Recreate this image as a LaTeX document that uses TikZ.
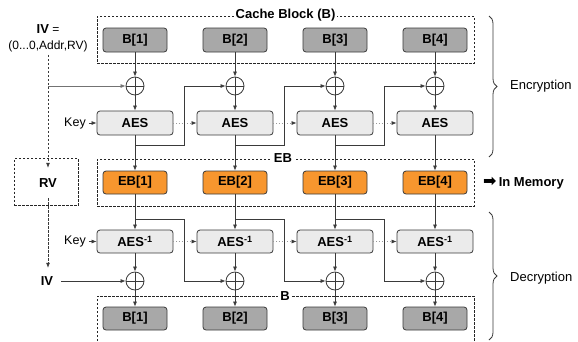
\documentclass[tikz,border=0pt]{standalone}
\usepackage{fontspec}
\setmainfont{Liberation Sans}
\newfontfamily\symfont{DejaVu Sans}
\usetikzlibrary{arrows.meta,calc,decorations.pathreplacing}
\definecolor{bgray}{HTML}{A8A8A8}
\definecolor{lgray}{HTML}{EBEBEB}
\definecolor{eborange}{HTML}{F7962E}
\definecolor{ln}{HTML}{3A3A3A}
\begin{document}
\begin{tikzpicture}[x=1pt,y=-1pt,
  font=\fontsize{13}{15}\selectfont,
  box/.style={draw=ln, line width=0.8pt, rounded corners=3pt, inner sep=0pt,
    font=\fontsize{13}{15}\selectfont\bfseries},
  bbox/.style={box, fill=bgray, minimum width=64pt, minimum height=24pt},
  ebbox/.style={box, fill=eborange, minimum width=64pt, minimum height=23pt},
  aesbox/.style={box, fill=lgray, minimum width=76pt, minimum height=24pt},
  xor/.style={circle, draw=ln, line width=0.8pt, minimum size=18pt, inner sep=0pt,
    path picture={\draw[ln, line width=0.8pt] (path picture bounding box.north) -- (path picture bounding box.south)
      (path picture bounding box.west) -- (path picture bounding box.east);}},
  frame/.style={draw=black!85, line width=0.8pt, dash pattern=on 2.5pt off 1.5pt},
  title/.style={fill=white, inner sep=2pt, font=\fontsize{13}{15}\selectfont\bfseries},
  arr/.style={draw=ln, line width=0.7pt, -{Latex[length=5pt,width=4pt]}},
  garr/.style={arr, draw=black!55},
  dasharr/.style={arr, dash pattern=on 2.5pt off 1.5pt},
  keyarr/.style={draw=black!40, line width=0.7pt, dotted, -{Latex[length=5pt,width=4pt,color=ln]}},
  lbl/.style={font=\fontsize{12.5}{15}\selectfont, inner sep=3pt},
  brace/.style={draw=ln, line width=0.8pt, decorate, decoration={brace, amplitude=8pt}}
]
\useasboundingbox (0,0) rectangle (578,341);

% frames
\node[frame, minimum width=377pt, minimum height=47pt, inner sep=0pt] (cbf) at (285.5,39.5) {};
\node[title] (cbt) at (cbf.north) {Cache Block (B)};
\node[frame, minimum width=377pt, minimum height=47pt, inner sep=0pt] (ebf) at (285.5,182.5) {};
\node[title] (ebt) at (283,158) {EB};
\node[frame, minimum width=64pt, minimum height=47pt, inner sep=0pt] (rvf) at (46,182) {};
\draw[frame] (97,345) |- (474,296) -- (474,345);
\node[title] (bt) at (285,296) {B};

% IV and RV
\node[align=center, inner sep=3pt, font=\fontsize{12}{16}\selectfont] (ivt) at (48,38)
  {\textbf{\fontsize{13}{16}\selectfont IV} =\\(0...0,Addr,RV)};
\node[font=\fontsize{13}{15}\selectfont\bfseries, minimum height=30pt, inner sep=0pt] (rvt) at (48,183) {RV};
\node[font=\fontsize{13}{15}\selectfont\bfseries, minimum height=26pt, inner xsep=8pt, inner ysep=0pt] (ivb) at (47,281) {IV};
\draw[dasharr] (ivt.south -| rvt.north) -- (rvt.north);
\draw[dasharr] (rvt.south) -- (rvt.south |- ivb.north);

% columns
\foreach \i/\x in {1/135,2/235,3/335,4/435}{
  \node[bbox] (b\i) at (\x,40) {B[\i]};
  \node[xor] (x\i) at (\x,86) {};
  \node[aesbox] (a\i) at (\x,123) {AES};
  \node[ebbox] (e\i) at (\x,182.5) {EB[\i]};
  \node[aesbox, minimum height=23pt] (d\i) at (\x,241.5) {AES\textsuperscript{-1}};
  \node[xor] (y\i) at (\x,281) {};
  \node[bbox, minimum height=23pt] (c\i) at (\x,318.5) {B[\i]};
  \draw[arr] (b\i) -- (x\i);
  \draw[arr] (x\i) -- (a\i);
  \draw[arr] (a\i) -- (e\i);
  \draw[arr] (e\i) -- (d\i);
  \draw[arr] (d\i) -- (y\i);
  \draw[arr] (y\i) -- (c\i);
}

% chaining
\foreach \i/\j in {1/2,2/3,3/4}{
  \draw[keyarr] (a\i) -- (a\j);
  \draw[keyarr] (d\i) -- (d\j);
  \draw[arr] ($(a\i.south)+(0,10)$) -| ($(x\j.west)+(-41,0)$) -- (x\j.west);
  \draw[arr] ($(e\i.south)+(0,25)$) -| ($(y\j.west)+(-41,0)$) -- (y\j.west);
}

% IV inputs
\draw[garr] (ivt.south |- x1.center) -- (x1);
\draw[arr] (ivb) -- (y1);

% keys
\node[lbl] (k1) at (75,123) {Key};
\node[lbl] (k2) at (75,241.5) {Key};
\draw[arr] (k1) -- (a1);
\draw[arr] (k2) -- (d1);

% braces and labels
\coordinate (et) at (489,16);
\coordinate (eb) at (489,157);
\coordinate (dt) at (489,212);
\coordinate (db) at (489,340);
\draw[brace] (et) -- (eb);
\draw[brace] (dt) -- (db);
\node[anchor=west, inner sep=0pt] (enc) at (510,86) {Encryption};
\node[anchor=west, inner sep=0pt] (dec) at (510,278) {Decryption};
\node[anchor=west, inner sep=0pt, font=\fontsize{13}{15}\selectfont\bfseries] (mem) at (483,183)
  {{\symfont\fontsize{16}{15}\selectfont\raisebox{-0.5pt}{➡}}\,In Memory};
\end{tikzpicture}
\end{document}
